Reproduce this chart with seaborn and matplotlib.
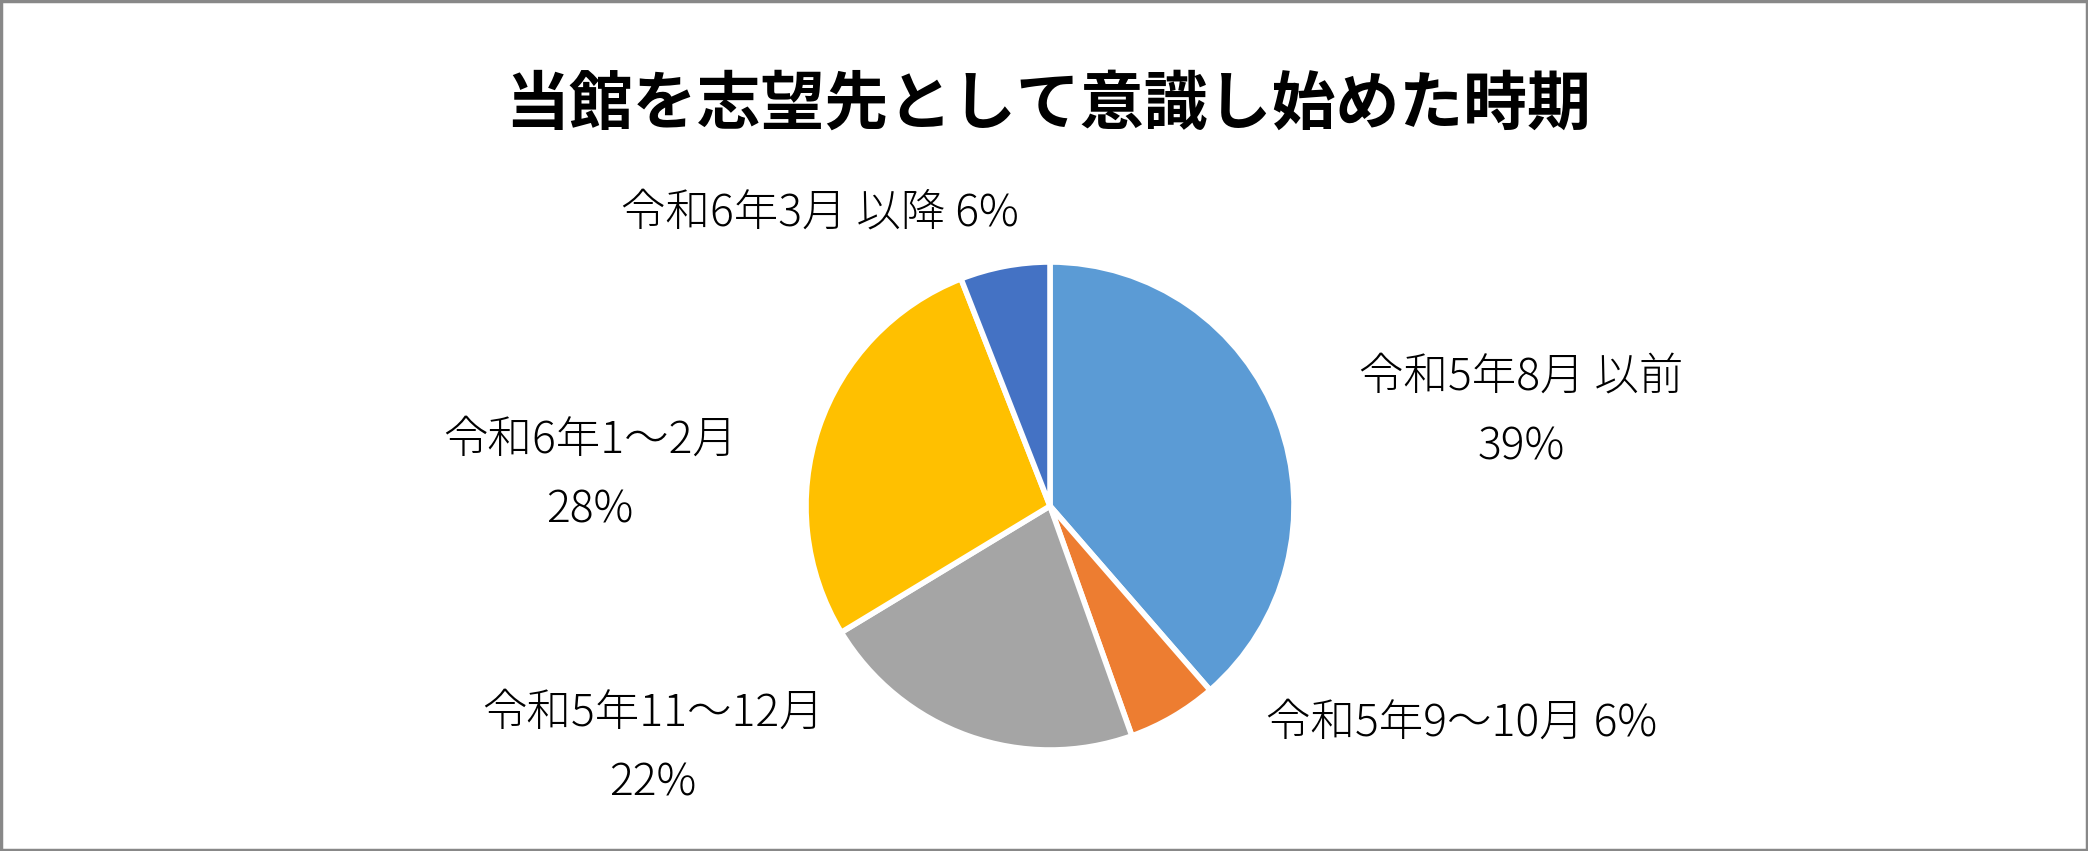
import matplotlib
matplotlib.use('Agg')
import matplotlib.pyplot as plt
import seaborn as sns
from matplotlib.patches import Rectangle

# Data
categories = ['令和5年8月 以前', '令和5年9～10月', '令和5年11～12月', '令和6年1～2月', '令和6年3月 以降']
shares = [39, 6, 22, 28, 6]
colors = ['#5B9BD5', '#ED7D31', '#A5A5A5', '#FFC000', '#4472C4']
separators = ['\n', ' ', '\n', '\n', ' ']
title = '当館を志望先として意識し始めた時期'

# Label centres in pixels (from top-left), Excel "best fit" style
label_px = [(1521, 412), (1462, 723), (653, 748), (590, 475), (820, 213)]

sns.set_theme(style='white')
plt.rcParams['font.family'] = ['Noto Sans CJK JP', 'DejaVu Sans']

W, H = 2088, 851
fig = plt.figure(figsize=(W / 100, H / 100), dpi=100)
fig.patch.set_facecolor('white')

# pie axes: centre (1050, 506) px, radius 244 px
cx, cy, r = 1050, 506, 244
ax = fig.add_axes([(cx - r) / W, (H - cy - r) / H, 2 * r / W, 2 * r / H])
ax.pie(shares, colors=colors, startangle=90, counterclock=False, radius=1,
       wedgeprops=dict(edgecolor='white', linewidth=4))
ax.set_xlim(-1, 1)
ax.set_ylim(-1, 1)
ax.set_aspect('equal')
ax.axis('off')

for cat, val, sep, (px, py) in zip(categories, shares, separators, label_px):
    fig.text(px / W, 1 - py / H, f'{cat}{sep}{val}%', ha='center', va='center',
             fontsize=32, fontweight='light', color='#000000', linespacing=1.7,
             multialignment='center')

fig.text(1048 / W, 1 - 105 / H, title, ha='center', va='center',
         fontsize=46, fontweight='bold', color='#000000')

# chart border
fig.patches.append(Rectangle((0.0005, 0.001), 0.999, 0.998, transform=fig.transFigure,
                             fill=False, edgecolor='#888888', linewidth=2.5))

fig.savefig('out.png', dpi=100, facecolor='white')
